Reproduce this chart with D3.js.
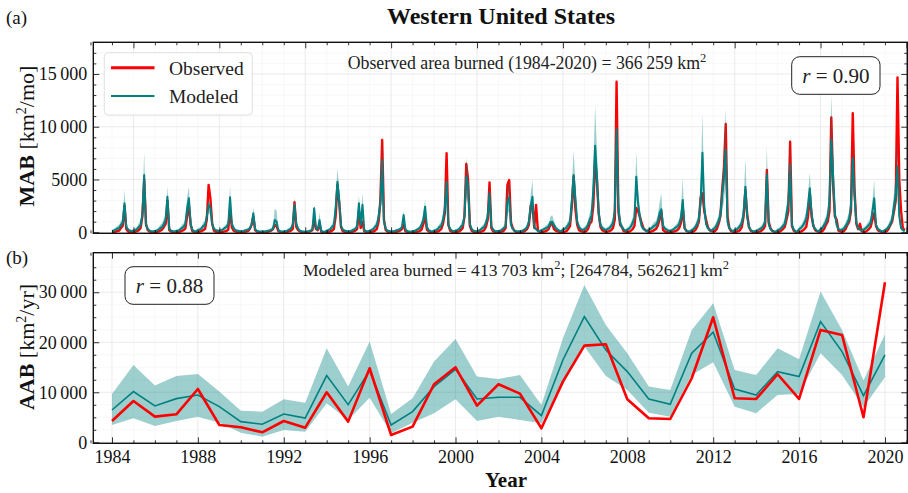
<!DOCTYPE html>
<html>
<head>
<meta charset="utf-8">
<script src="https://cdn.jsdelivr.net/npm/d3@7"></script>
<style>
  body { margin: 0; background: #fff; }
  svg { display: block; }
</style>
</head>
<body>
<script>
// Annual values (bottom panel)
const years = [1984,1985,1986,1987,1988,1989,1990,1991,1992,1993,1994,1995,1996,1997,1998,1999,2000,
  2001,2002,2003,2004,2005,2006,2007,2008,2009,2010,2011,2012,2013,2014,2015,2016,2017,2018,2019,2020];
const obsAnnual = [4260,8260,5130,5600,10660,3460,3000,2000,4260,2930,10000,4130,14800,1460,3130,11600,15000,
  7330,11600,9730,2800,12130,19330,19600,8600,4800,4660,12800,25000,8800,8660,13600,8660,22460,21460,5000,32000];
const modAnnual = [6460,10130,7260,8730,9460,7130,4130,3600,5660,4860,13330,7530,14330,3460,6130,11130,14600,
  8660,9000,9000,5330,16460,25130,18460,14130,8660,7600,17800,22000,10660,9460,14130,13130,24130,18130,9330,17460];
const modAnnualLo = [3460,4800,3260,4260,5130,3930,1930,1130,2460,2130,7800,4460,8930,1800,3930,5800,8600,
  4260,5130,4460,3800,11500,19130,13260,10460,5930,5130,13460,16000,7130,5800,9460,9660,17800,13460,7000,13000];
const modAnnualHi = [9660,15460,11330,13260,13660,10130,6330,6130,8600,7930,18800,11130,20130,5660,8800,16130,20660,
  13130,12660,13460,7460,20800,31460,23460,17800,11130,10460,22460,27800,14460,13460,18800,16600,30130,22460,12330,21600];

// Monthly values (top panel), one row per year, Jan..Dec
const obsMonthly = [
  [30,30,50,100,150,400,600,2500,300,60,20,20],
  [30,40,100,200,400,1500,5000,800,200,60,30,20],
  [20,30,60,150,250,500,800,3000,200,60,30,20],
  [20,30,50,120,200,350,1500,2500,700,80,30,20],
  [50,50,100,200,300,1200,4480,3200,800,150,50,30],
  [20,20,40,80,120,250,2200,450,150,60,30,20],
  [10,20,30,60,100,300,700,1500,200,50,20,10],
  [10,10,20,50,80,150,300,700,550,100,20,10],
  [10,20,40,80,150,300,2840,500,200,80,20,10],
  [10,20,40,100,200,1200,300,200,800,50,10,10],
  [20,30,60,150,300,1500,4500,2800,500,100,30,20],
  [10,20,40,80,150,300,2000,400,1000,80,30,20],
  [20,30,60,150,300,1000,3000,8740,1200,200,50,30],
  [10,10,20,40,80,150,300,700,100,30,10,10],
  [10,10,30,60,100,250,800,1500,250,80,20,20],
  [20,30,60,150,300,800,1800,7480,700,150,50,30],
  [20,30,80,200,400,1500,6470,5000,600,150,40,20],
  [10,20,40,100,200,500,1200,4730,400,80,30,20],
  [20,30,60,150,400,4500,4950,900,400,100,30,20],
  [20,30,60,150,300,700,2500,2600,400,2590,200,30],
  [30,40,80,150,300,700,900,300,150,80,40,30],
  [30,50,100,300,600,2500,5270,2200,700,200,100,50],
  [50,100,300,800,1000,2500,6850,5000,1800,500,200,100],
  [30,50,100,200,400,1200,14260,2000,700,500,100,50],
  [30,50,150,300,600,2300,2000,1500,900,400,200,100],
  [30,50,100,200,300,600,1200,2000,200,70,30,20],
  [20,30,60,120,200,400,900,2300,400,120,50,30],
  [30,80,200,500,1000,3300,3690,2000,1200,500,200,100],
  [50,100,300,800,1500,4000,6000,10260,1500,400,100,50],
  [30,50,100,200,500,1500,4000,1700,500,150,50,30],
  [20,30,60,150,300,600,5900,1000,400,120,50,30],
  [20,50,150,300,500,1200,2000,8580,600,150,40,10],
  [30,60,150,300,500,1500,3690,1500,600,200,100,30],
  [50,100,300,700,1000,2000,10890,4500,1500,1200,150,70],
  [50,100,300,700,1000,2000,11270,4000,800,300,800,100],
  [30,50,150,300,500,1200,1800,600,200,100,40,30],
  [50,100,300,700,1000,2000,3000,14680,5000,2000,400,200]
];
const modMonthly = [
  [120,150,250,350,400,700,900,2750,500,250,150,120],
  [150,200,300,500,700,1700,5430,700,300,150,100,80],
  [120,150,250,400,500,800,1200,3370,300,150,100,80],
  [120,150,250,400,500,800,2300,3220,700,200,100,80],
  [200,250,350,600,700,1500,2590,2300,800,300,200,150],
  [150,180,250,400,500,800,3310,800,400,200,150,120],
  [80,100,150,200,250,350,700,1800,300,120,80,60],
  [60,80,100,130,170,220,350,1160,1000,200,80,60],
  [80,100,150,250,350,700,2600,800,350,150,80,60],
  [50,60,100,150,250,2270,400,250,1150,100,50,40],
  [150,200,300,500,700,2300,4790,3000,600,250,150,120],
  [80,100,150,250,300,600,2750,700,2600,200,100,80],
  [150,200,300,500,700,1500,2700,6850,1000,300,150,120],
  [60,80,120,180,220,300,450,1640,250,120,60,50],
  [100,120,200,300,400,700,1200,2420,500,200,100,80],
  [150,200,300,500,600,1200,2200,4790,700,300,150,100],
  [150,200,300,500,700,1500,5270,4500,800,300,150,100],
  [100,150,250,400,500,900,1500,3690,600,250,120,100],
  [120,150,250,400,600,2900,3300,700,300,150,100,80],
  [100,120,200,300,500,1000,2500,3370,500,300,120,80],
  [200,250,350,450,550,950,1000,700,400,250,150,100],
  [250,300,450,700,1000,3000,5430,3200,1000,500,300,200],
  [300,400,700,1200,1600,4000,8200,5500,1800,700,400,300],
  [200,300,400,600,900,2000,9750,2500,900,500,250,150],
  [250,350,550,900,1400,5270,2800,1500,600,300,200,100],
  [250,300,450,600,700,1000,1800,2180,600,350,250,150],
  [150,200,300,450,550,800,1400,3060,400,150,80,60],
  [200,300,500,800,1300,3000,7540,2500,800,400,200,150],
  [300,400,700,1100,1600,3500,5000,7800,1000,400,200,100],
  [200,250,400,600,900,1800,4320,1500,500,200,100,80],
  [150,200,300,400,600,1000,5430,800,300,150,80,50],
  [200,250,400,600,800,1800,2800,6370,700,250,100,80],
  [300,400,600,900,1300,2500,4170,1800,600,300,150,100],
  [300,400,700,1000,1500,3000,8740,5500,1800,700,300,200],
  [250,350,600,900,1300,2500,7010,3500,900,400,250,150],
  [250,350,500,700,900,2000,3220,700,300,200,100,80],
  [200,300,500,800,1200,2500,3600,6210,1500,400,200,100]
];
const modMonthlyHi = [
  [250,300,450,600,700,1100,1400,4070,850,450,280,230],
  [300,380,550,850,1150,2600,7630,1100,500,280,200,160],
  [250,300,450,700,850,1300,1800,4380,550,300,200,160],
  [250,300,450,700,850,1300,3300,4320,1200,380,200,160],
  [380,450,600,950,1100,2100,3060,2900,1200,500,350,280],
  [280,330,450,650,800,1200,4380,1200,650,350,280,230],
  [180,200,280,350,420,550,1050,2370,500,230,170,140],
  [150,180,220,260,320,400,600,2270,2000,380,170,140],
  [170,200,280,420,550,1050,3310,1200,580,270,170,140],
  [130,150,220,300,450,2600,650,450,1900,220,130,110],
  [280,350,500,800,1100,3300,6060,4100,950,430,280,230],
  [170,200,280,420,500,950,3530,1100,3800,370,200,160],
  [280,350,500,800,1100,2200,3800,9210,1500,500,280,230],
  [150,180,230,320,380,480,700,2000,430,230,150,130],
  [200,230,350,480,630,1050,1750,3150,800,360,200,160],
  [280,350,500,800,950,1800,3200,5600,1100,500,280,200],
  [280,350,500,800,1100,2200,7010,6000,1200,500,280,200],
  [200,280,420,650,800,1350,2200,4700,950,430,230,200],
  [230,280,420,650,950,4200,4900,1100,500,280,200,160],
  [200,230,350,480,800,1500,3600,4950,800,500,230,160],
  [350,420,550,700,850,1450,1640,1100,650,430,280,200],
  [450,520,750,1100,1500,4300,7800,4600,1500,800,500,350],
  [520,680,1100,1800,2400,5900,12060,8000,2700,1100,650,500],
  [380,520,650,950,1400,3000,11500,3700,1400,800,430,280],
  [450,600,900,1400,2100,7630,4100,2200,950,500,350,200],
  [450,520,750,950,1100,1600,2800,3690,950,600,450,280],
  [280,350,500,720,880,1250,2200,5110,650,280,170,130],
  [380,520,800,1250,2000,4500,11270,3700,1250,650,380,280],
  [520,680,1100,1650,2400,5200,7500,11740,1600,680,380,200],
  [380,450,650,950,1400,2800,7010,2400,800,380,200,160],
  [280,350,500,650,950,1550,8170,1300,500,280,170,110],
  [380,450,650,950,1250,2700,4100,9370,1100,450,200,160],
  [520,680,950,1400,2000,3700,5640,2700,950,500,280,200],
  [520,680,1100,1550,2250,4400,13000,8000,2700,1100,520,350],
  [450,600,950,1400,2000,3700,8600,5000,1400,650,450,280],
  [450,600,800,1100,1400,3000,4950,1100,500,350,200,160],
  [380,520,800,1250,1800,3700,5400,9050,2300,680,380,200]
];
const modMonthlyLo = [
  [60,80,130,190,220,400,500,1600,280,140,80,60],
  [70,100,150,260,380,950,3200,380,160,80,50,40],
  [60,80,130,210,270,430,650,2300,160,80,50,40],
  [60,80,130,210,270,430,1300,2100,380,110,50,40],
  [100,130,180,320,380,850,1800,1600,450,160,100,80],
  [70,90,130,210,270,430,2000,430,210,100,70,60],
  [40,50,80,100,130,180,380,1150,160,60,40,30],
  [30,40,50,60,80,110,180,600,550,100,40,30],
  [40,50,80,130,180,380,1700,430,180,80,40,30],
  [25,30,50,80,130,1300,210,130,650,50,25,20],
  [70,100,150,260,380,1400,3300,1900,320,130,70,60],
  [40,50,80,130,160,320,1800,380,1500,100,50,40],
  [70,100,150,260,380,900,1700,4300,550,160,70,60],
  [30,40,60,90,110,150,230,1000,130,60,30,25],
  [50,60,100,150,200,380,700,1500,260,100,50,40],
  [70,100,150,260,320,700,1300,3000,380,160,70,50],
  [70,100,150,260,380,900,3300,2800,430,160,70,50],
  [50,80,130,210,270,500,850,2300,320,130,60,50],
  [60,80,130,210,320,1700,2000,380,160,80,50,40],
  [50,60,100,150,260,550,1500,2000,260,160,60,40],
  [100,130,180,230,280,520,550,380,210,130,80,50],
  [130,160,230,380,550,1800,3600,2000,550,260,160,100],
  [160,210,380,650,880,2300,5000,3300,1000,380,210,160],
  [100,160,210,320,500,1150,6500,1400,500,260,130,80],
  [130,180,300,500,780,3300,1600,800,320,160,100,50],
  [130,160,230,320,380,550,1000,1200,320,180,130,80],
  [80,100,150,230,280,430,780,1700,210,80,40,30],
  [100,160,260,430,720,1700,4300,1400,430,210,100,80],
  [160,210,380,600,880,2000,2900,4700,550,210,100,50],
  [100,130,210,320,500,1000,2600,850,260,100,50,40],
  [80,100,150,210,320,550,3300,430,160,80,40,25],
  [100,130,210,320,430,1000,1600,3900,380,130,50,40],
  [160,210,320,500,720,1450,2600,1000,320,160,80,50],
  [160,210,380,540,820,1750,5300,3300,1000,380,160,100],
  [130,180,320,500,720,1450,4500,2100,500,210,130,80],
  [130,180,260,380,500,1150,1900,380,160,100,50,40],
  [100,160,260,430,670,1450,2100,3700,800,210,100,50]
];

// Ticks
const xTickLabels = ["1984","1988","1992","1996","2000","2004","2008","2012","2016","2020"];
const xMajorTop = [1985,1989,1993,1997,2001,2005,2009,2013,2017,2021];
const yTicksTop = [0, 5000, 10000, 15000];
const yTicksBottom = [0, 10000, 20000, 30000];

const width = 908;
const height = 493;
const FONT = "'Liberation Serif', 'DejaVu Serif', serif";
const RED = "#ff0000";
const TEAL = "#008080";

const left = 93.3, right = 907.3;
const topA = 42.3, botA = 233.3;
const topB = 252.7, botB = 443.3;

const svg = d3.select("body").append("svg")
  .attr("width", width)
  .attr("height", height)
  .attr("viewBox", [0, 0, width, height])
  .style("font-family", FONT);

svg.append("rect").attr("width", width).attr("height", height).attr("fill", "#fff");

const x = d3.scaleLinear().domain([1983.13, 2021.04]).range([left, right]);
const yA = d3.scaleLinear().domain([-100, 18000]).range([botA, topA]);
const yB = d3.scaleLinear().domain([-200, 37900]).range([botB, topB]);

// thin-space thousands separator like the LaTeX labels
const fmt = v => v >= 10000 ? d3.format(",")(v).replace(/,/g, "\u2009") : String(v);

// flatten monthly rows into points at year + month/12
const monthly = [];
years.forEach((yr, i) => {
  for (let m = 0; m < 12; m++) {
    monthly.push({
      t: yr + m / 12,
      obs: obsMonthly[i][m],
      mod: modMonthly[i][m],
      lo: modMonthlyLo[i][m],
      hi: modMonthlyHi[i][m]
    });
  }
});
const annual = years.map((yr, i) => ({
  t: yr, obs: obsAnnual[i], mod: modAnnual[i], lo: modAnnualLo[i], hi: modAnnualHi[i]
}));

const defs = svg.append("defs");
defs.append("clipPath").attr("id", "clipA").append("rect")
  .attr("x", left).attr("y", topA).attr("width", right - left).attr("height", botA - topA);
defs.append("clipPath").attr("id", "clipB").append("rect")
  .attr("x", left).attr("y", topB).attr("width", right - left).attr("height", botB - topB);

function grid(y, top, bottom, xMajor, xMinor, yMajor, yMinor) {
  const g = svg.append("g");
  g.selectAll(".gxm").data(xMinor).join("line")
    .attr("x1", d => x(d)).attr("x2", d => x(d)).attr("y1", top).attr("y2", bottom)
    .attr("stroke", "#f3f3f3").attr("stroke-width", 0.6);
  g.selectAll(".gym").data(yMinor).join("line")
    .attr("x1", left).attr("x2", right).attr("y1", d => y(d)).attr("y2", d => y(d))
    .attr("stroke", "#f3f3f3").attr("stroke-width", 0.6);
  g.selectAll(".gx").data(xMajor).join("line")
    .attr("x1", d => x(d)).attr("x2", d => x(d)).attr("y1", top).attr("y2", bottom)
    .attr("stroke", "#e4e4e4").attr("stroke-width", 0.8);
  g.selectAll(".gy").data(yMajor).join("line")
    .attr("x1", left).attr("x2", right).attr("y1", d => y(d)).attr("y2", d => y(d))
    .attr("stroke", "#e4e4e4").attr("stroke-width", 0.8);
}

function axes(y, top, bottom, xMajor, xMinor, yMajor, yMinor, xLabels) {
  const tick = g => {
    g.select(".domain").remove();
    g.selectAll(".tick line").attr("stroke", "#000").attr("stroke-width", 0.8);
    g.attr("font-family", FONT).attr("font-size", 18).attr("fill", "#111");
    g.selectAll(".tick text").attr("fill", "#111");
  };
  svg.append("g").attr("transform", `translate(0,${bottom})`)
    .call(d3.axisBottom(x).tickValues(xMajor).tickSize(-6).tickPadding(7)
      .tickFormat((d, i) => xLabels ? xLabels[i] : ""))
    .call(tick);
  svg.append("g").attr("transform", `translate(0,${bottom})`)
    .call(d3.axisBottom(x).tickValues(xMinor).tickSize(-3).tickFormat("")).call(tick);
  svg.append("g").attr("transform", `translate(0,${top})`)
    .call(d3.axisTop(x).tickValues(xMajor).tickSize(-6).tickFormat("")).call(tick);
  svg.append("g").attr("transform", `translate(0,${top})`)
    .call(d3.axisTop(x).tickValues(xMinor).tickSize(-3).tickFormat("")).call(tick);
  svg.append("g").attr("transform", `translate(${left},0)`)
    .call(d3.axisLeft(y).tickValues(yMajor).tickSize(-6).tickPadding(6).tickFormat(fmt)).call(tick);
  svg.append("g").attr("transform", `translate(${left},0)`)
    .call(d3.axisLeft(y).tickValues(yMinor).tickSize(-3).tickFormat("")).call(tick);
  svg.append("g").attr("transform", `translate(${right},0)`)
    .call(d3.axisRight(y).tickValues(yMajor).tickSize(-6).tickFormat("")).call(tick);
  svg.append("g").attr("transform", `translate(${right},0)`)
    .call(d3.axisRight(y).tickValues(yMinor).tickSize(-3).tickFormat("")).call(tick);
  svg.append("rect")
    .attr("x", left).attr("y", top).attr("width", right - left).attr("height", bottom - top)
    .attr("fill", "none").attr("stroke", "#111").attr("stroke-width", 1.4);
}

const allYears = d3.range(1983, 2022);
const xMajorBottom = xTickLabels.map(Number);
const xMinorTop = allYears.filter(d => !xMajorTop.includes(d));
const xMinorBottom = allYears.filter(d => !xMajorBottom.includes(d));

// ---------- Panel (a): monthly ----------
const yMinorTop = d3.range(1000, 18000, 1000).filter(d => d % 5000 !== 0);
grid(yA, topA, botA, xMajorTop, xMinorTop, yTicksTop, yMinorTop);

const pA = svg.append("g").attr("clip-path", "url(#clipA)");
pA.append("path").datum(monthly)
  .attr("fill", "none").attr("stroke", RED).attr("stroke-width", 2.4).attr("stroke-linejoin", "round")
  .attr("d", d3.line().x(d => x(d.t)).y(d => yA(d.obs)));
pA.append("path").datum(monthly)
  .attr("fill", TEAL).attr("fill-opacity", 0.38)
  .attr("d", d3.area().x(d => x(d.t)).y0(d => yA(d.lo)).y1(d => yA(d.hi)));
pA.append("path").datum(monthly)
  .attr("fill", "none").attr("stroke", TEAL).attr("stroke-width", 2).attr("stroke-linejoin", "round")
  .attr("d", d3.line().x(d => x(d.t)).y(d => yA(d.mod)));

axes(yA, topA, botA, xMajorTop, xMinorTop, yTicksTop, yMinorTop, null);

// legend
const lg = svg.append("g");
lg.append("rect").attr("x", 104.3).attr("y", 52.7).attr("width", 148).attr("height", 62.3)
  .attr("rx", 4).attr("fill", "#fff").attr("fill-opacity", 0.85)
  .attr("stroke", "#d8d8d8").attr("stroke-width", 0.8);
lg.append("line").attr("x1", 111).attr("x2", 154.5).attr("y1", 67.7).attr("y2", 67.7)
  .attr("stroke", RED).attr("stroke-width", 3);
lg.append("line").attr("x1", 111).attr("x2", 154.5).attr("y1", 96).attr("y2", 96)
  .attr("stroke", TEAL).attr("stroke-width", 2);
lg.append("text").attr("x", 169).attr("y", 74.5).attr("font-size", 19.5).attr("fill", "#222").text("Observed");
lg.append("text").attr("x", 169).attr("y", 103).attr("font-size", 19.5).attr("fill", "#222").text("Modeled");

// annotation texts
const tA = svg.append("text").attr("x", 527).attr("y", 68.5).attr("text-anchor", "middle")
  .attr("font-size", 17.8).attr("fill", "#222");
tA.append("tspan").text("Observed area burned (1984-2020) = 366\u2009259 km");
tA.append("tspan").attr("dy", -7).attr("font-size", 12.5).text("2");

function rBox(x0, y0, w, h, val) {
  svg.append("rect").attr("x", x0).attr("y", y0).attr("width", w).attr("height", h)
    .attr("rx", 8).attr("fill", "#fff").attr("stroke", "#222").attr("stroke-width", 1);
  const t = svg.append("text").attr("x", x0 + w / 2).attr("y", y0 + h / 2 + 7)
    .attr("text-anchor", "middle").attr("font-size", 21).attr("fill", "#222");
  t.append("tspan").attr("font-style", "italic").text("r");
  t.append("tspan").text(" = " + val);
}
rBox(791.7, 56.7, 88.3, 37.6, "0.90");

// ---------- Panel (b): annual ----------
const yMinorBottom = d3.range(2500, 37500, 2500).filter(d => d % 10000 !== 0);
grid(yB, topB, botB, xMajorBottom, xMinorBottom, yTicksBottom, yMinorBottom);

const pB = svg.append("g").attr("clip-path", "url(#clipB)");
pB.append("path").datum(annual)
  .attr("fill", TEAL).attr("fill-opacity", 0.38)
  .attr("d", d3.area().x(d => x(d.t)).y0(d => yB(d.lo)).y1(d => yB(d.hi)));
pB.append("path").datum(annual)
  .attr("fill", "none").attr("stroke", TEAL).attr("stroke-width", 1.6)
  .attr("d", d3.line().x(d => x(d.t)).y(d => yB(d.mod)));
pB.append("path").datum(annual)
  .attr("fill", "none").attr("stroke", RED).attr("stroke-width", 2.6).attr("stroke-linejoin", "round")
  .attr("d", d3.line().x(d => x(d.t)).y(d => yB(d.obs)));

axes(yB, topB, botB, xMajorBottom, xMinorBottom, yTicksBottom, yMinorBottom, xTickLabels);

const tB = svg.append("text").attr("x", 516).attr("y", 275.5).attr("text-anchor", "middle")
  .attr("font-size", 17.6).attr("fill", "#222");
tB.append("tspan").text("Modeled area burned = 413\u2009703 km");
tB.append("tspan").attr("dy", -7).attr("font-size", 12.5).text("2");
tB.append("tspan").attr("dy", 7).text("; [264784, 562621] km");
tB.append("tspan").attr("dy", -7).attr("font-size", 12.5).text("2");

rBox(125, 266.7, 89, 37.6, "0.88");

// ---------- Titles and labels ----------
svg.append("text").attr("x", 501).attr("y", 24).attr("text-anchor", "middle")
  .attr("font-size", 24).attr("font-weight", "bold").attr("fill", "#111").text("Western United States");
svg.append("text").attr("x", 6).attr("y", 24).attr("font-size", 19).attr("fill", "#111").text("(a)");
svg.append("text").attr("x", 6).attr("y", 264).attr("font-size", 19).attr("fill", "#111").text("(b)");

function yLabel(cy, name, unit) {
  const t = svg.append("text").attr("transform", `translate(33.5,${cy}) rotate(-90)`)
    .attr("text-anchor", "middle").attr("font-size", 22).attr("fill", "#111");
  t.append("tspan").attr("font-weight", "bold").text(name + " ");
  t.append("tspan").text("[km");
  t.append("tspan").attr("dy", -8).attr("font-size", 14).text("2");
  t.append("tspan").attr("dy", 8).text("/" + unit + "]");
}
yLabel(136, "MAB", "mo");
yLabel(347, "AAB", "yr");

svg.append("text").attr("x", 506).attr("y", 487).attr("text-anchor", "middle")
  .attr("font-size", 21).attr("font-weight", "bold").attr("fill", "#111").text("Year");
</script>
</body>
</html>
